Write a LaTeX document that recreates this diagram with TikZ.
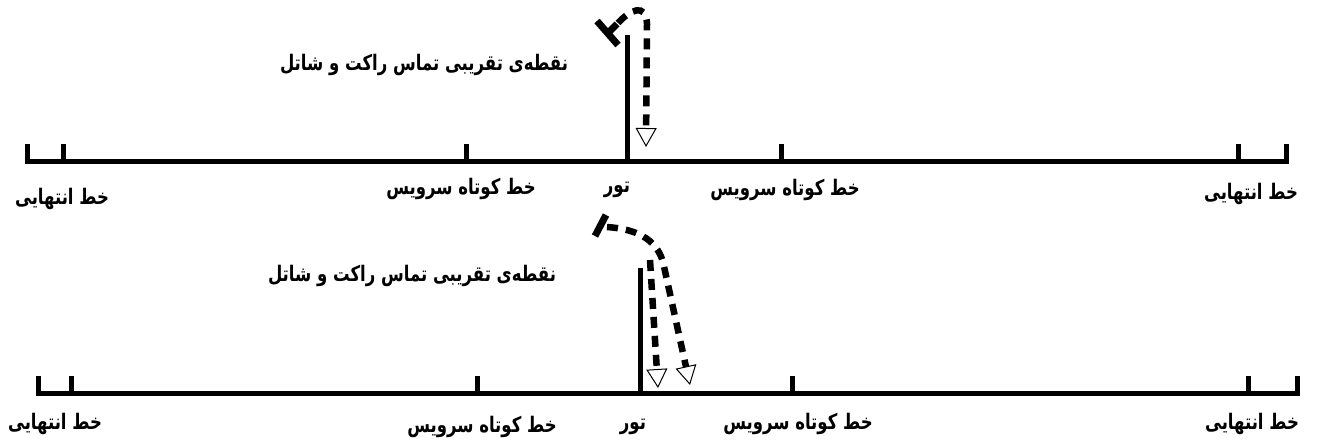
\documentclass[tikz,border=0pt]{standalone}
\usepackage{fontspec}
\usepackage{graphicx}
\usetikzlibrary{arrows.meta}
\newfontfamily\arabicfont[Script=Arabic]{DejaVu Sans}
\TeXXeTstate=1
\newcommand\rtltext[1]{\scalebox{1}[1.3]{\beginR #1\endR}}
\tikzset{
  court/.style={line width=5pt, line join=miter},
  racket/.style={line width=7pt},
  lbl/.style={font=\arabicfont\bfseries\fontsize{16.5}{19}\selectfont, inner sep=0pt},
  flight/.style={line width=6.5pt, dash pattern=on 11pt off 8pt,
    -{Triangle[open, length=19pt, width=21pt, line width=1pt]}},
}
\begin{document}
\begin{tikzpicture}[x=1pt, y=-1pt]
\useasboundingbox (0,0) rectangle (1319,444);
% ---------- top court ----------
\draw[court] (27,144) |- (1286,161) -- (1286,144);
\foreach \xx in {63,466,781,1238} \draw[court] (\xx,161) -- (\xx,144);
\coordinate (netA) at (627,161);
\coordinate (netAtop) at (627,35);
\draw[court] (netA) -- (netAtop);
\draw[racket] (597,21) -- (618,45);
\draw[racket] (608,33) -- (617,24);
\coordinate (hitA) at (618,23);
\coordinate (landA) at (646,147);
\draw[flight] (hitA) .. controls (630,10) and (646,2) .. (647,24) -- (landA);
\node[lbl] (endAL) at (62,199) {\rtltext{خط انتهایی}};
\node[lbl] (srvAL) at (461,189) {\rtltext{خط کوتاه سرویس}};
\node[lbl] (netAL) at (617,190) {\rtltext{تور}};
\node[lbl] (srvAR) at (785,190) {\rtltext{خط کوتاه سرویس}};
\node[lbl] (endAR) at (1251,194) {\rtltext{خط انتهایی}};
\node[lbl] (hitAL) at (424,65) {\rtltext{نقطه‌ی تقریبی تماس راکت و شاتل}};
% ---------- bottom court ----------
\draw[court] (38,376) |- (1297,393) -- (1297,376);
\foreach \xx in {71,477,792,1248} \draw[court] (\xx,393) -- (\xx,376);
\coordinate (netB) at (640,393);
\coordinate (netBtop) at (640,268);
\draw[court] (netB) -- (netBtop);
\draw[racket] (595,236) -- (606,215);
\coordinate (hitB) at (607,227);
\coordinate (split) at (650,260);
\coordinate (landBL) at (658,388);
\coordinate (landBR) at (690,385);
\draw[flight] (hitB) .. controls (635,229) and (656,238) .. (663,262) -- (landBR);
\draw[flight] (split) -- (landBL);
\node[lbl] (endBL) at (55,424) {\rtltext{خط انتهایی}};
\node[lbl] (srvBL) at (482,427) {\rtltext{خط کوتاه سرویس}};
\node[lbl] (netBL) at (633,427) {\rtltext{تور}};
\node[lbl] (srvBR) at (798,424) {\rtltext{خط کوتاه سرویس}};
\node[lbl] (endBR) at (1252,424) {\rtltext{خط انتهایی}};
\node[lbl] (hitBL) at (412,276) {\rtltext{نقطه‌ی تقریبی تماس راکت و شاتل}};
\end{tikzpicture}
\end{document}
